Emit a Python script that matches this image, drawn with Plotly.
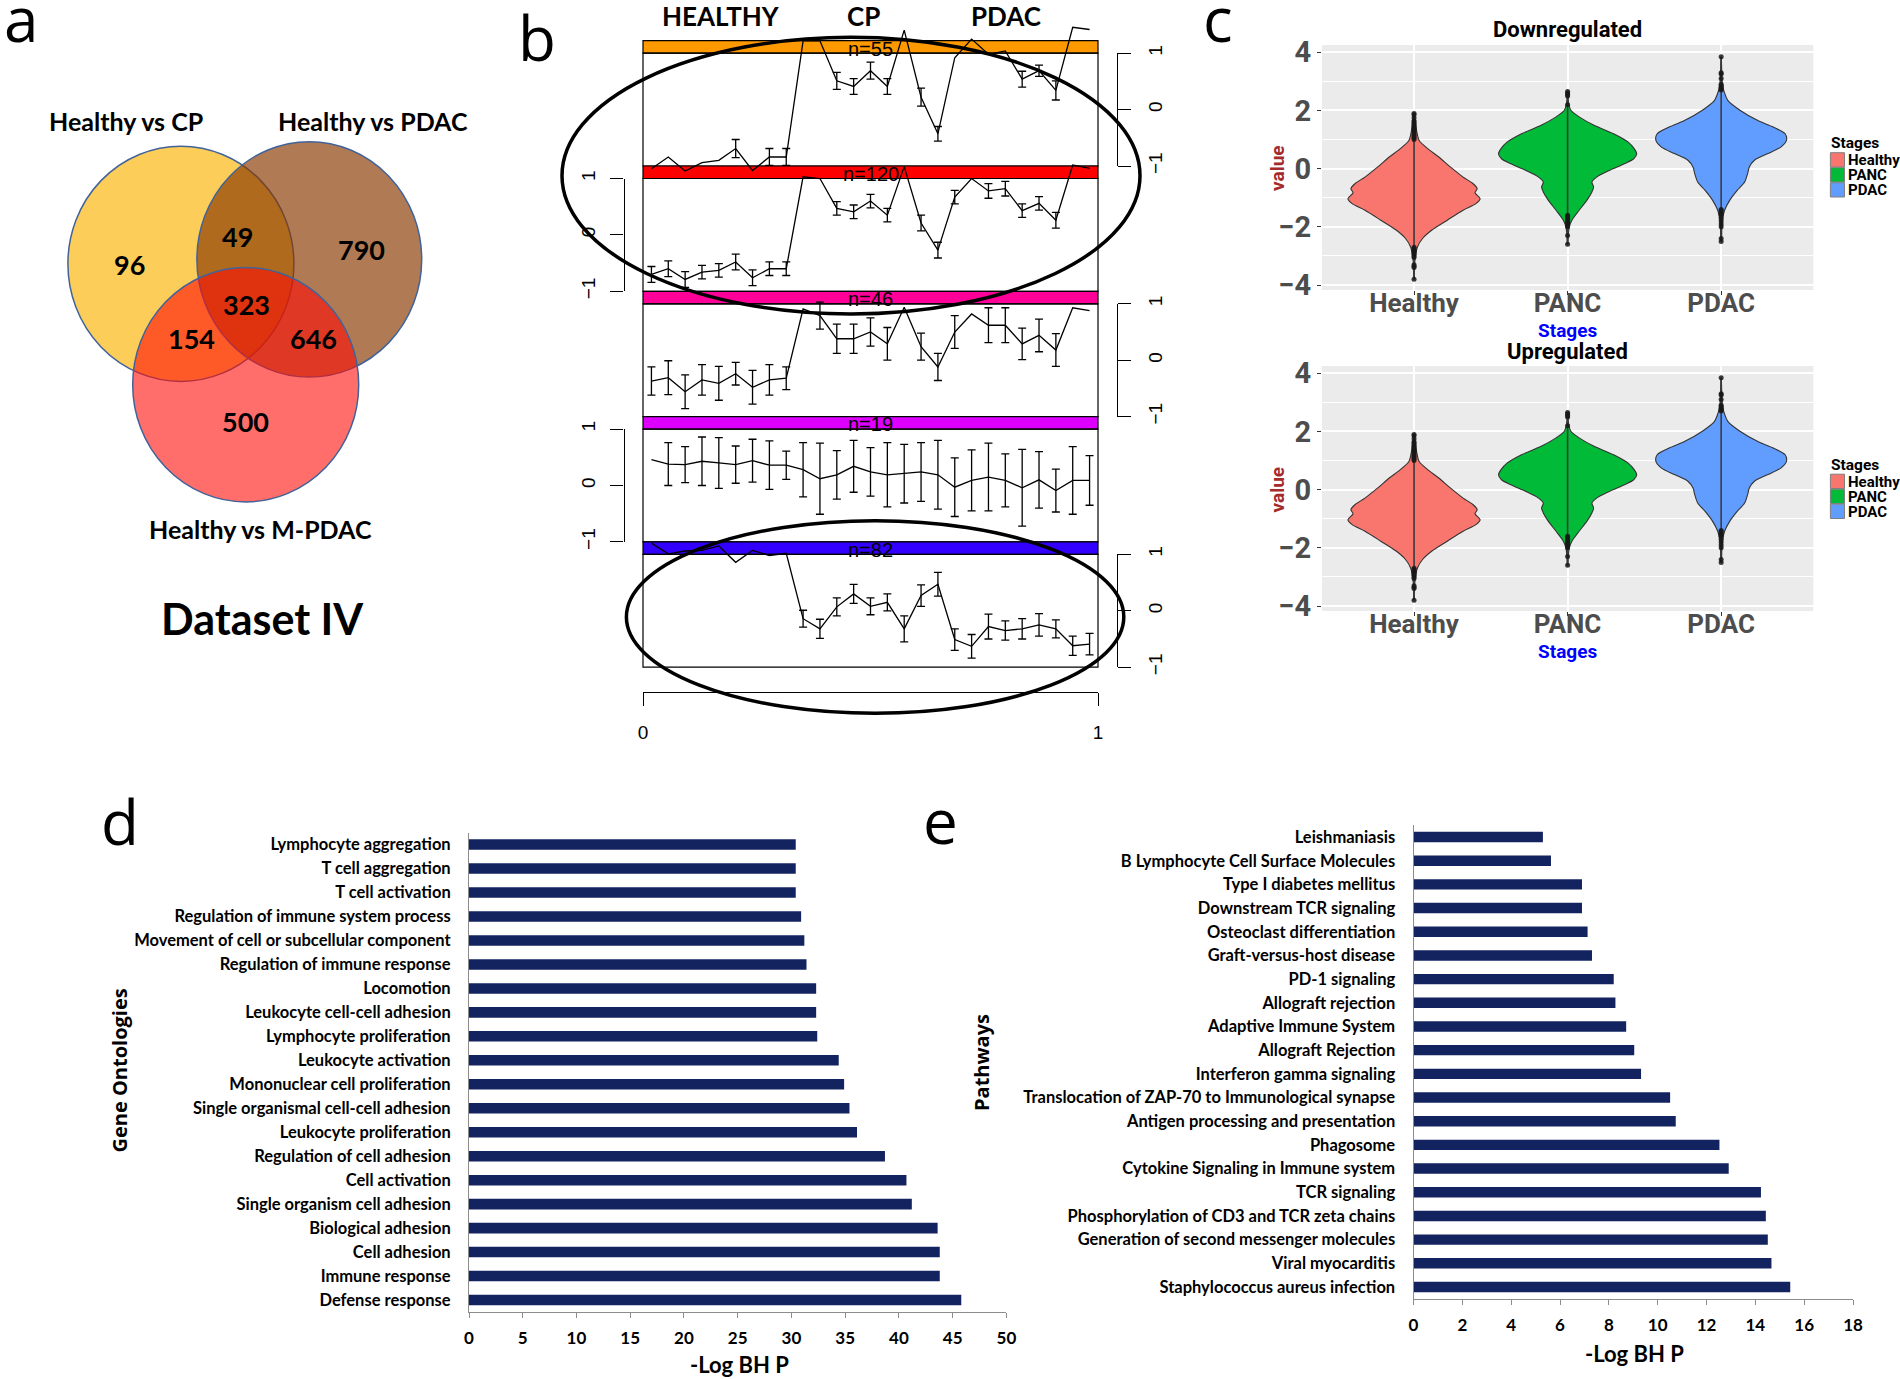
import plotly.graph_objects as go

W, H = 1900, 1379


def PX(x):
    return x / W


def PY(y):
    return 1 - y / H


# ============================ DATA ============================
# (a) Venn diagram
venn_sets = ["Healthy vs CP", "Healthy vs PDAC", "Healthy vs M-PDAC"]
venn_regions = ["CP only", "CP & PDAC", "PDAC only", "all three",
                "CP & M-PDAC", "PDAC & M-PDAC", "M-PDAC only"]
venn_counts = [96, 49, 790, 323, 154, 646, 500]
venn_caption = "Dataset IV"

# (b) cluster profiles (27 samples, mean +/- error per cluster)
stages = ["HEALTHY", "CP", "PDAC"]
cluster_sizes = [55, 120, 46, 19, 82]
n_samples = 27
profile_mean_1 = [-1.05, -0.84, -1.09, -0.94, -0.90, -0.69, -1.08, -0.84, -0.84,
                  1.22, 1.22, 0.51, 0.41, 0.69, 0.41, 1.41, 0.22, -0.43,
                  0.92, 1.25, 0.98, 1.04, 0.54, 0.69, 0.34, 1.46, 1.42]
profile_err_1 = [None, None, None, None, None, 0.16, None, 0.15, 0.15,
                 None, None, 0.15, 0.14, 0.15, 0.14, None, 0.16, 0.13,
                 None, None, None, None, 0.14, 0.10, 0.17, None, None]
profile_mean_2 = [-0.70, -0.60, -0.79, -0.66, -0.63, -0.48, -0.76, -0.60, -0.60,
                  1.03, 1.00, 0.47, 0.41, 0.60, 0.35, 1.21, 0.21, -0.27,
                  0.67, 1.00, 0.78, 0.82, 0.43, 0.56, 0.26, 1.24, 1.18]
profile_err_2 = [0.14, 0.14, 0.14, 0.12, 0.12, 0.14, 0.14, 0.12, 0.12,
                 None, None, 0.12, 0.12, 0.12, 0.12, None, 0.14, 0.14,
                 0.12, None, 0.13, 0.13, 0.12, 0.12, 0.14, None, None]
profile_mean_3 = [-0.37, -0.31, -0.56, -0.35, -0.41, -0.24, -0.48, -0.35, -0.32,
                  0.91, 0.79, 0.38, 0.38, 0.50, 0.29, 0.94, 0.24, -0.12,
                  0.50, 0.82, 0.62, 0.62, 0.29, 0.44, 0.18, 0.93, 0.88]
profile_err_3 = [0.25, 0.30, 0.30, 0.27, 0.30, 0.20, 0.30, 0.27, 0.20,
                 None, 0.24, 0.26, 0.26, 0.25, 0.29, None, 0.24, 0.24,
                 0.29, None, 0.31, 0.31, 0.28, 0.29, 0.29, None, None]
profile_mean_4 = [0.46, 0.38, 0.37, 0.43, 0.40, 0.37, 0.44, 0.36, 0.36,
                  0.28, 0.12, 0.19, 0.34, 0.24, 0.19, 0.21, 0.24, 0.19,
                  -0.03, 0.09, 0.15, 0.09, -0.04, 0.10, -0.09, 0.09, 0.09]
profile_err_4 = [None, 0.38, 0.32, 0.43, 0.45, 0.33, 0.38, 0.43, 0.25,
                 0.48, 0.63, 0.43, 0.46, 0.43, 0.57, 0.52, 0.52, 0.61,
                 0.52, 0.54, 0.60, 0.47, 0.68, 0.50, 0.38, 0.60, 0.44]
profile_mean_5 = [1.20, 1.01, 1.06, 1.07, 1.15, 0.86, 1.07, 0.98, 1.02,
                  -0.14, -0.32, 0.07, 0.30, 0.08, 0.15, -0.32, 0.27, 0.47,
                  -0.51, -0.63, -0.28, -0.35, -0.32, -0.25, -0.32, -0.62, -0.59]
profile_err_5 = [None, None, None, None, None, None, None, None, None,
                 0.15, 0.17, 0.16, 0.17, 0.15, 0.15, 0.23, 0.19, 0.21,
                 0.19, 0.21, 0.22, 0.17, 0.18, 0.20, 0.16, 0.17, 0.19]
profile_ticks = [-1, 0, 1]
profile_tick_text = ["\u22121", "0", "1"]
time_ticks = [0, 1]
time_tick_text = ["0", "1"]

# (c) violin profiles: value levels and relative density (outline half-width)
violin_groups = ["Healthy", "PANC", "PDAC"]
healthy_levels = [1.90, 1.60, 1.31, 0.97, 0.69, 0.40, 0.06, -0.29, -0.51, -0.69, -0.83,
                  -1.03, -1.20, -1.43, -1.77, -2.11, -2.40, -2.69, -3.03, -3.40, -3.80]
healthy_density = [1, 3, 6, 12, 32, 58, 85, 115, 138, 148, 143,
                   155, 145, 115, 78, 42, 20, 8, 3, 1, 0.5]
panc_levels = [2.65, 2.20, 2.00, 1.77, 1.49, 1.20, 0.91, 0.69, 0.51, 0.34, 0.17,
               -0.06, -0.29, -0.46, -0.63, -0.80, -1.09, -1.43, -1.77, -2.00, -2.30, -2.60]
panc_density = [0.5, 3, 8, 28, 62, 108, 142, 156, 162, 155, 133,
                98, 68, 57, 61, 57, 45, 27, 10, 4, 1.5, 0.5]
pdac_levels = [3.85, 3.30, 2.90, 2.69, 2.34, 2.00, 1.66, 1.43, 1.20, 0.97, 0.74,
               0.51, 0.29, 0.06, -0.17, -0.46, -0.74, -1.09, -1.43, -1.77, -2.10, -2.50]
pdac_density = [0.5, 1.5, 3, 6, 16, 45, 85, 122, 150, 153, 140,
                108, 78, 66, 62, 55, 38, 20, 8, 3, 1.5, 0.5]
healthy_points = [1.0, 1.05, 1.1, 1.15, 1.2, 1.25, 1.3, 1.35, 1.4, 1.45, 1.5, 1.55,
                  1.6, 1.65, 1.75, 1.85, 1.9, -2.7, -2.75, -2.8, -2.85, -2.9, -2.95,
                  -3.0, -3.05, -3.3, -3.35, -3.4, -3.8]
panc_points = [2.2, 2.5, 2.55, 2.6, 2.65, -1.6, -1.65, -1.7, -1.75, -1.8, -1.85,
               -1.9, -1.95, -2.0, -2.3, -2.6]
pdac_points = [2.7, 2.75, 2.8, 2.85, 2.9, 3.1, 3.25, 3.3, 3.85, -1.4, -1.45, -1.5,
               -1.55, -1.6, -1.7, -1.8, -1.9, -2.0, -2.4, -2.5]
violin_titles = ["Downregulated", "Upregulated"]
violin_ticks = [-4, -2, 0, 2, 4]

# (d) gene ontologies
go_terms = ["Lymphocyte aggregation", "T cell aggregation", "T cell activation",
            "Regulation of immune system process", "Movement of cell or subcellular component",
            "Regulation of immune response", "Locomotion", "Leukocyte cell-cell adhesion",
            "Lymphocyte proliferation", "Leukocyte activation", "Mononuclear cell proliferation",
            "Single organismal cell-cell adhesion", "Leukocyte proliferation",
            "Regulation of cell adhesion", "Cell activation", "Single organism cell adhesion",
            "Biological adhesion", "Cell adhesion", "Immune response", "Defense response"]
go_values = [30.4, 30.4, 30.4, 30.9, 31.2, 31.4, 32.3, 32.3, 32.4, 34.4,
             34.9, 35.4, 36.1, 38.7, 40.7, 41.2, 43.6, 43.8, 43.8, 45.8]

# (e) pathways
pathways = ["Leishmaniasis", "B Lymphocyte Cell Surface Molecules", "Type I diabetes mellitus",
            "Downstream TCR signaling", "Osteoclast differentiation", "Graft-versus-host disease",
            "PD-1 signaling", "Allograft rejection", "Adaptive Immune System", "Allograft Rejection",
            "Interferon gamma signaling", "Translocation of ZAP-70 to Immunological synapse",
            "Antigen processing and presentation", "Phagosome", "Cytokine Signaling in Immune system",
            "TCR signaling", "Phosphorylation of CD3 and TCR zeta chains",
            "Generation of second messenger molecules", "Viral myocarditis",
            "Staphylococcus aureus infection"]
pathway_values = [5.3, 5.63, 6.9, 6.9, 7.13, 7.31, 8.2, 8.27, 8.71, 9.04,
                  9.32, 10.51, 10.74, 12.53, 12.91, 14.23, 14.43, 14.51, 14.66, 15.43]

# ============================ STYLE / LAYOUT ============================
LATO = "Lato, Open Sans, sans-serif"
OPEN = "Open Sans, Lato, sans-serif"
ARIAL = "Liberation Sans, Arial, sans-serif"
NARROW = "Roboto, Liberation Sans, sans-serif"
NAVY = "#13235F"

VENN_GEOM = [(180.9, 263.8, 113, 117.6), (309.3, 259.4, 112.4, 117.7), (245.7, 384.7, 113, 117.2)]
VENN_FILLS = ["rgba(252,196,60,0.85)", "rgba(137,57,0,0.67)", "rgba(255,13,7,0.6)"]
VENN_EDGE = "#41639A"
VENN_COUNT_POS = [(129.5, 264), (237.4, 236.3), (361.8, 249.5), (246.3, 304.7),
                  (191.5, 338.9), (313.7, 338.9), (245.7, 421.6)]
VENN_SET_POS = [(125.7, 121.2), (373.3, 121.2), (260.6, 528.7)]
VENN_CAPTION_POS = (262.3, 618)

CLUSTER_COLORS = ["#FF9900", "#FF0000", "#FF0099", "#DD00FF", "#3300FF"]
B_LEFT, B_RIGHT = 643, 1098
B_TOP0, B_PERIOD, B_BAR_H = 40.7, 125.3, 12.5
B_DATA_SPAN = 745
B_RIGHT_AXIS_X, B_LEFT_AXIS_X = 1116.8, 623.5
B_BOTTOM_AXIS_Y = 692.3
STAGE_POS = [721, 863, 1006]

VIOLIN_COLORS = ["#F8766D", "#00BA38", "#619CFF"]
VIOLIN_HALF = 0.45
DENS_MAX = 162.0
C_LEFT, C_RIGHT = 1321.9, 1813.3
C_PANELS = [(45, 290), (366, 611)]
C_OFFSET = [0, 321.5]

fig = go.Figure()
annotations = []
shapes = []
layout_axes = {}


def note(text, x, y, size, family, color="black", bold=False, xanchor="center",
         yanchor="middle", angle=0, xref="paper", yref="paper"):
    annotations.append(dict(text=text, x=x, y=y, xref=xref, yref=yref, showarrow=False,
                            xanchor=xanchor, yanchor=yanchor, textangle=angle,
                            font=dict(size=size, family=family, color=color,
                                      weight="bold" if bold else "normal")))


# ---------------- panel letters ----------------
for letter, (lx, ly) in zip("abcde", [(21, 18), (537, 37), (1218, 18), (120, 821), (940, 820)]):
    note(letter, PX(lx), PY(ly), 62, OPEN)

# ---------------- (a) Venn ----------------
layout_axes["xaxis5"] = dict(domain=[0, PX(500)], range=[0, 500], visible=False, anchor="y5")
layout_axes["yaxis5"] = dict(domain=[PY(700), 1], range=[700, 0], visible=False, anchor="x5")
fig.add_trace(go.Scatter(x=[None], y=[None], xaxis="x5", yaxis="y5", showlegend=False, hoverinfo="skip"))
for (cx, cy, rx, ry), fill in zip(VENN_GEOM, VENN_FILLS):
    shapes.append(dict(type="circle", xref="x5", yref="y5", x0=cx - rx, x1=cx + rx,
                       y0=cy - ry, y1=cy + ry, fillcolor=fill,
                       line=dict(color=VENN_EDGE, width=1.5), layer="above"))
for cnt, (tx, ty) in zip(venn_counts, VENN_COUNT_POS):
    note(str(cnt), tx, ty, 27, LATO, bold=True, xref="x5", yref="y5")
for name, (tx, ty) in zip(venn_sets, VENN_SET_POS):
    note(name, tx, ty, 25, LATO, bold=True, xref="x5", yref="y5")
note(venn_caption, VENN_CAPTION_POS[0], VENN_CAPTION_POS[1], 43, LATO, bold=True, xref="x5", yref="y5")

# ---------------- (b) cluster profiles ----------------
sample_x = [(i + 0.5) / n_samples for i in range(n_samples)]
profile_means = [profile_mean_1, profile_mean_2, profile_mean_3, profile_mean_4, profile_mean_5]
profile_errs = [profile_err_1, profile_err_2, profile_err_3, profile_err_4, profile_err_5]

layout_axes["xaxis6"] = dict(domain=[PX(B_LEFT), PX(B_RIGHT)], range=[0, 1], anchor="free",
                             position=PY(B_BOTTOM_AXIS_Y), showline=True, linecolor="black",
                             linewidth=1.2, ticks="outside", ticklen=13, tickwidth=1.2,
                             tickcolor="black", tickvals=time_ticks, ticktext=time_tick_text,
                             tickfont=dict(family=ARIAL, size=19, color="black"),
                             showgrid=False, zeroline=False, ticklabelstandoff=10)

for k in range(5):
    bar_top = B_TOP0 + k * B_PERIOD
    bar_bot = bar_top + B_BAR_H
    plot_bot = bar_top + B_PERIOD
    center = (bar_bot + plot_bot) / 2
    half = (plot_bot - bar_bot) / 2
    data_ax = 6 + k
    disp_ax = 11 + k
    layout_axes[f"yaxis{data_ax}"] = dict(domain=[PY(B_DATA_SPAN), 1],
                                          range=[(center - B_DATA_SPAN) / half, center / half],
                                          visible=False, anchor="x6")
    right = (k % 2 == 0)
    layout_axes[f"yaxis{disp_ax}"] = dict(domain=[PY(plot_bot), PY(bar_bot)], range=[-1, 1],
                                          anchor="free",
                                          position=PX(B_RIGHT_AXIS_X if right else B_LEFT_AXIS_X),
                                          side="right" if right else "left",
                                          showline=True, linecolor="black", linewidth=1.2,
                                          ticks="outside", ticklen=13, tickwidth=1.2, tickcolor="black",
                                          tickvals=profile_ticks, ticktext=profile_tick_text,
                                          tickangle=-90, tickfont=dict(family=ARIAL, size=19, color="black"),
                                          showgrid=False, zeroline=False, ticklabelstandoff=8)
    fig.add_trace(go.Scatter(x=[None], y=[None], xaxis="x6", yaxis=f"y{disp_ax}",
                             showlegend=False, hoverinfo="skip"))
    # strip + plot frame
    shapes.append(dict(type="rect", xref="paper", yref="paper", x0=PX(B_LEFT), x1=PX(B_RIGHT),
                       y0=PY(bar_bot), y1=PY(bar_top), fillcolor=CLUSTER_COLORS[k],
                       line=dict(color="black", width=1.2), layer="below"))
    shapes.append(dict(type="rect", xref="paper", yref="paper", x0=PX(B_LEFT), x1=PX(B_RIGHT),
                       y0=PY(plot_bot), y1=PY(bar_bot), fillcolor="rgba(0,0,0,0)",
                       line=dict(color="black", width=1.2), layer="below"))
    note(f"n={cluster_sizes[k]}", PX((B_LEFT + B_RIGHT) / 2), PY((bar_top + bar_bot) / 2 + 1.6),
         20, ARIAL)
    means = profile_means[k]
    errs = profile_errs[k]
    fig.add_trace(go.Scatter(x=sample_x, y=means, mode="lines", line=dict(color="black", width=1.3),
                             xaxis="x6", yaxis=f"y{data_ax}", showlegend=False, hoverinfo="skip"))
    ex = [x for x, e in zip(sample_x, errs) if e is not None]
    ey = [m for m, e in zip(means, errs) if e is not None]
    ee = [e for e in errs if e is not None]
    fig.add_trace(go.Scatter(x=ex, y=ey, mode="markers", marker=dict(size=1, color="rgba(0,0,0,0)"),
                             error_y=dict(type="data", array=ee, color="black", thickness=1.3, width=4),
                             xaxis="x6", yaxis=f"y{data_ax}", showlegend=False, hoverinfo="skip"))

for st, sx in zip(stages, STAGE_POS):
    note(st, PX(sx), PY(16), 26, LATO, bold=True)

# highlight ellipses
for (ex0, ey0, ex1, ey1) in [(562, 37.3, 1140, 314), (626.4, 520.7, 1123.8, 713.3)]:
    shapes.append(dict(type="circle", xref="paper", yref="paper", x0=PX(ex0), x1=PX(ex1),
                       y0=PY(ey1), y1=PY(ey0), line=dict(color="black", width=3.5), layer="above"))

# ---------------- (c) violins ----------------
violin_levels = [healthy_levels, panc_levels, pdac_levels]
violin_dens = [healthy_density, panc_density, pdac_density]
violin_pts = [healthy_points, panc_points, pdac_points]

for p in range(2):
    xa, ya = 3 + p, 3 + p
    top, bot = C_PANELS[p]
    layout_axes[f"xaxis{xa}"] = dict(domain=[PX(C_LEFT), PX(C_RIGHT)], range=[0.4, 3.6], anchor=f"y{ya}",
                                     tickvals=[1, 2, 3], ticktext=violin_groups, showgrid=True,
                                     gridcolor="white", gridwidth=1.6, zeroline=False, showline=False,
                                     ticks="outside", ticklen=4, tickcolor="#333333",
                                     ticklabelstandoff=-14,
                                     tickfont=dict(family=NARROW, size=26, color="#4D4D4D", weight="bold"))
    layout_axes[f"yaxis{ya}"] = dict(domain=[PY(bot), PY(top)], range=[-4.17, 4.25], anchor=f"x{xa}",
                                     tickvals=violin_ticks, showgrid=True, gridcolor="white", gridwidth=1.6,
                                     minor=dict(dtick=1, showgrid=True, gridcolor="white", gridwidth=0.8),
                                     zeroline=False, showline=False, ticks="outside", ticklen=4,
                                     tickcolor="#333333",
                                     tickfont=dict(family=NARROW, size=29, color="#4D4D4D", weight="bold"))
    shapes.append(dict(type="rect", xref=f"x{xa} domain", yref=f"y{ya} domain", x0=0, x1=1, y0=0, y1=1,
                       fillcolor="#EBEBEB", line=dict(width=0), layer="below"))
    for g in range(3):
        c = g + 1
        lv, dn = violin_levels[g], violin_dens[g]
        xs = [c + VIOLIN_HALF * d / DENS_MAX for d in dn] + [c - VIOLIN_HALF * d / DENS_MAX for d in reversed(dn)]
        ys = list(lv) + list(reversed(lv))
        fig.add_trace(go.Scatter(x=xs, y=ys, fill="toself", fillcolor=VIOLIN_COLORS[g], mode="lines",
                                 line=dict(color="#333333", width=1.1, shape="spline", smoothing=0.8),
                                 xaxis=f"x{xa}", yaxis=f"y{ya}", showlegend=False, hoverinfo="skip"))
        pts = violin_pts[g]
        fig.add_trace(go.Scatter(x=[c, c], y=[min(pts), max(pts)], mode="lines",
                                 line=dict(color="#3A3A3A", width=1.6),
                                 xaxis=f"x{xa}", yaxis=f"y{ya}", showlegend=False, hoverinfo="skip"))
        fig.add_trace(go.Scatter(x=[c] * len(pts), y=pts, mode="markers",
                                 marker=dict(size=5, color="rgba(25,25,25,0.85)"),
                                 xaxis=f"x{xa}", yaxis=f"y{ya}", showlegend=False, hoverinfo="skip"))
    off = C_OFFSET[p]
    note(violin_titles[p], PX((C_LEFT + C_RIGHT) / 2), PY(30 + off), 22, NARROW, bold=True)
    note("value", PX(1277), PY(168 + off), 19, NARROW, color="#A52A2A", bold=True, angle=-90)
    note("Stages", PX((C_LEFT + C_RIGHT) / 2), PY(330 + off), 19, NARROW, color="#0000FF", bold=True)
    note("Stages", PX(1829), PY(143.3 + off), 15.5, NARROW, bold=True, xanchor="left")
    for g in range(3):
        y0 = 152.7 + 15 * g + off
        shapes.append(dict(type="rect", xref="paper", yref="paper", x0=PX(1830.4), x1=PX(1844.5),
                           y0=PY(y0 + 14.3), y1=PY(y0), fillcolor=VIOLIN_COLORS[g],
                           line=dict(color="#808080", width=1)))
        note(violin_groups[g], PX(1845.5), PY(y0 + 7.4), 15, NARROW, bold=True, xanchor="left")

# ---------------- (d) gene ontologies ----------------
fig.add_trace(go.Bar(x=go_values, y=go_terms, orientation="h", marker=dict(color=NAVY, line=dict(width=0)),
                     width=0.44, xaxis="x", yaxis="y", showlegend=False, hoverinfo="skip"))
layout_axes["xaxis"] = dict(domain=[PX(469), PX(1006.4)], range=[0, 50], dtick=5, anchor="y",
                            showline=True, linecolor="#8C8C8C", linewidth=1, ticks="outside", ticklen=5,
                            tickcolor="#8C8C8C", tickfont=dict(family=LATO, size=17, color="black", weight="bold"),
                            showgrid=False, zeroline=False, ticklabelstandoff=6)
layout_axes["yaxis"] = dict(domain=[PY(1312), PY(832.6)], type="category", categoryorder="array",
                            categoryarray=go_terms, range=[len(go_terms) - 0.5, -0.5], anchor="x",
                            showline=True, linecolor="#8C8C8C", linewidth=1, ticks="",
                            tickfont=dict(family=LATO, size=16.5, color="black", weight="bold"), showgrid=False,
                            zeroline=False, ticklabelstandoff=14)
note("-Log BH P", PX(739), PY(1364), 22, LATO, bold=True)
note("Gene Ontologies", PX(118.5), PY(1071), 20, OPEN, bold=True, angle=-90)

# ---------------- (e) pathways ----------------
fig.add_trace(go.Bar(x=pathway_values, y=pathways, orientation="h", marker=dict(color=NAVY, line=dict(width=0)),
                     width=0.44, xaxis="x2", yaxis="y2", showlegend=False, hoverinfo="skip"))
layout_axes["xaxis2"] = dict(domain=[PX(1413.5), PX(1853)], range=[0, 18], dtick=2, anchor="y2",
                             showline=True, linecolor="#8C8C8C", linewidth=1, ticks="outside", ticklen=5,
                             tickcolor="#8C8C8C", tickfont=dict(family=LATO, size=17, color="black", weight="bold"),
                             showgrid=False, zeroline=False, ticklabelstandoff=6)
layout_axes["yaxis2"] = dict(domain=[PY(1298.8), PY(825.2)], type="category", categoryorder="array",
                             categoryarray=pathways, range=[len(pathways) - 0.5, -0.5], anchor="x2",
                             showline=True, linecolor="#8C8C8C", linewidth=1, ticks="",
                             tickfont=dict(family=LATO, size=16.5, color="black", weight="bold"), showgrid=False,
                             zeroline=False, ticklabelstandoff=14)
note("-Log BH P", PX(1634), PY(1353.6), 22, LATO, bold=True)
note("Pathways", PX(981), PY(1062), 20, OPEN, bold=True, angle=-90)

fig.update_layout(width=W, height=H, margin=dict(l=0, r=0, t=0, b=0), template="none",
                  paper_bgcolor="white", plot_bgcolor="rgba(0,0,0,0)", showlegend=False,
                  annotations=annotations, shapes=shapes, **layout_axes)

fig.write_html("out.html", config={"displayModeBar": False},
               post_script="document.body.style.margin='0px';")
